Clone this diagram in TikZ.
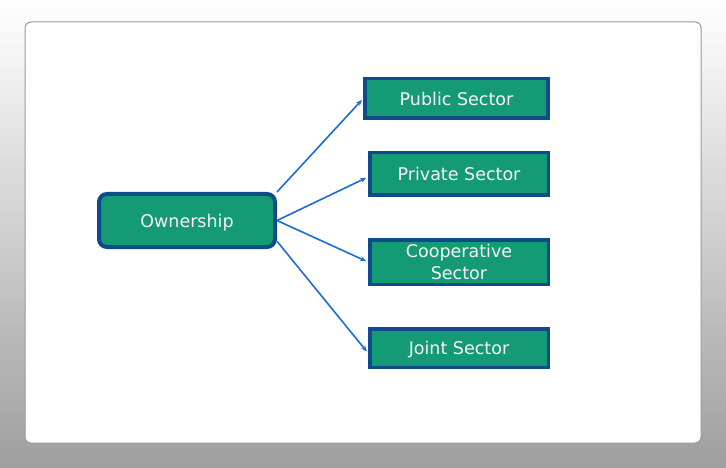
\documentclass[tikz,border=0pt]{standalone}
\usepackage{fontspec}
\setmainfont{DejaVu Sans}
\usetikzlibrary{arrows.meta}
\definecolor{sectorFill}{RGB}{20,154,116}
\definecolor{sectorBorder}{RGB}{12,76,138}
\definecolor{linkBlue}{RGB}{28,108,215}
\providecommand{\orgFont}{\fontsize{17.5}{22}\selectfont}
\tikzset{
  sectorbox/.style={draw=sectorBorder, fill=sectorFill, line width=3.5pt, text=white!96!black,
    font=\orgFont, align=center, inner sep=0pt, text depth=0pt, minimum width=183pt},
  ownerbox/.style={sectorbox, rounded corners=8pt, line width=4pt, minimum width=176pt, minimum height=53pt},
  link/.style={draw=linkBlue, line width=1.6pt, -{Stealth[length=6pt,width=5pt]}, shorten >=2pt}
}
\begin{document}
\begin{tikzpicture}[x=1pt, y=-1pt]
% Page background with the white panel
\useasboundingbox (0,0) rectangle (726,468);
\shade[top color=white, bottom color=black!38] (0,0) rectangle (726,468);
\path[fill=white, draw=black!40, line width=1pt, rounded corners=6pt] (25,22) rectangle (701,443);
% Root node
\node[ownerbox] (own) at (187,220.5) {Ownership};
% Sector nodes
\node[sectorbox, minimum height=39.5pt] (pub) at (456.5,98.5) {Public Sector};
\node[sectorbox, minimum width=178.5pt, minimum height=42.5pt] (priv) at (459,174) {Private Sector};
\node[sectorbox, minimum width=178.5pt, minimum height=44.5pt] (coop) at (459,262) {Cooperative\\Sector};
\node[sectorbox, minimum width=178.5pt, minimum height=38.5pt] (joint) at (459,348) {Joint Sector};
% Links
\draw[link] (own.north east) -- (pub.west);
\draw[link] (own.east) -- ([yshift=-3pt]priv.west);
\draw[link] (own.east) -- (coop.west);
\draw[link] (own.-13) -- ([yshift=-5pt]joint.west);
\end{tikzpicture}
\end{document}
